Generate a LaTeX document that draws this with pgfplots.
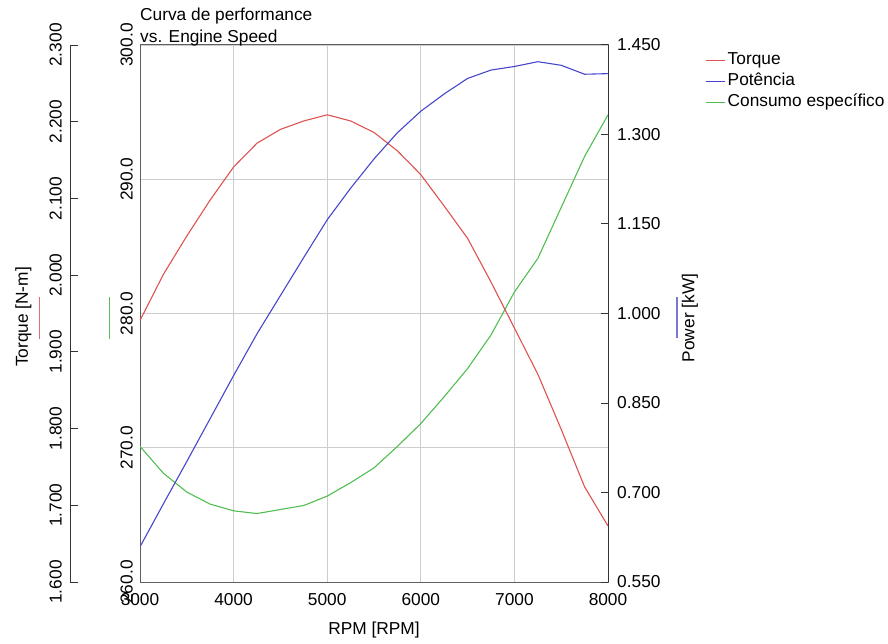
\documentclass[border=0pt]{standalone}
\usepackage{fontspec}
\setmainfont{Liberation Sans}
\usepackage{pgfplots}
\pgfplotsset{compat=1.18}
\usepackage{pgfplotstable}
\definecolor{torquec}{RGB}{222,82,82}
\definecolor{powc}{RGB}{70,70,205}
\definecolor{consc}{RGB}{80,190,80}
\definecolor{framec}{RGB}{95,95,95}
\definecolor{gridc}{RGB}{205,205,205}
\definecolor{lblred}{RGB}{220,110,110}
\definecolor{lblgreen}{RGB}{90,190,90}
\definecolor{lblblue}{RGB}{120,120,210}

\pgfplotstableread{
rpm torque power cons
3000 1.941 0.609 270.1
3250 2.001 0.681 268.1
3500 2.051 0.752 266.7
3750 2.098 0.824 265.8
4000 2.141 0.896 265.3
4250 2.172 0.966 265.1
4500 2.190 1.030 265.4
4750 2.201 1.094 265.7
5000 2.209 1.157 266.4
5250 2.201 1.210 267.4
5500 2.186 1.259 268.5
5750 2.162 1.303 270.1
6000 2.131 1.339 271.8
6250 2.090 1.368 273.8
6500 2.048 1.394 275.9
6750 1.991 1.408 278.4
7000 1.931 1.414 281.6
7250 1.871 1.422 284.1
7500 1.799 1.416 287.9
7750 1.724 1.401 291.7
8000 1.673 1.402 294.8
}\engdata

\begin{document}
\fontsize{17.3}{20.8}\selectfont
\begin{tikzpicture}[x=1pt,y=1pt]
\useasboundingbox (0,0) rectangle (888,643);

% main axis: consumo especifico
\begin{axis}[
  scale only axis, width=468pt, height=537pt,
  at={(140pt,61pt)}, anchor=south west,
  /pgf/number format/assume math mode=true, scaled ticks=false,
  xmin=3000, xmax=8000, ymin=260, ymax=300,
  xtick={3000,4000,5000,6000,7000,8000},
  ytick={260,270,280,290,300},
  grid=major, major grid style={gridc, line width=0.9pt},
  axis line style={framec, line width=1pt},
  major tick length=0pt,
  xticklabel style={yshift=-5.5pt, /pgf/number format/set thousands separator={}},
  yticklabel style={rotate=90, anchor=south, inner sep=0pt, inner ysep=7pt,
    /pgf/number format/.cd, fixed, fixed zerofill, precision=1},
  xlabel={RPM [RPM]},
  xlabel style={at={(axis description cs:0.5,0)}, anchor=north, inner sep=0pt, yshift=-40pt},
  legend cell align=left,
  legend image code/.code={\draw[#1, line width=1.2pt] (0pt,0pt) -- (19pt,0pt);},
  legend style={at={(rel axis cs:1.2073,0.9916)}, anchor=north west, draw=none, fill=none,
    inner sep=0pt, row sep=0pt, column sep=0pt,
    nodes={inner sep=2.3pt, text height=12.5pt, text depth=4pt}},
]
\addlegendimage{torquec}
\addlegendentry{Torque}
\addlegendimage{powc}
\addlegendentry{Potência}
\addplot[consc, line width=1.1pt] table[x=rpm, y=cons] {\engdata};
\addlegendentry{Consumo específico}
\end{axis}

% torque axis (offset left)
\begin{axis}[
  scale only axis, width=538pt, height=537pt,
  at={(70pt,61pt)}, anchor=south west,
  /pgf/number format/assume math mode=true, scaled ticks=false,
  xmin=2252.137, xmax=8000, ymin=1.6, ymax=2.3,
  axis y line*=left, axis x line=none,
  ytick={1.6,1.7,1.8,1.9,2.0,2.1,2.2,2.3},
  tick align=inside, major tick length=8pt,
  axis line style={black!80, line width=1pt},
  every tick/.style={black!80, line width=1pt},
  yticklabel style={rotate=90, anchor=south, inner sep=0pt, inner ysep=8pt,
    /pgf/number format/.cd, fixed, fixed zerofill, precision=3},
]
\addplot[torquec, line width=1.1pt] table[x=rpm, y=torque] {\engdata};
\end{axis}

% power axis (right)
\begin{axis}[
  scale only axis, width=468pt, height=537pt,
  at={(140pt,61pt)}, anchor=south west,
  /pgf/number format/assume math mode=true, scaled ticks=false,
  xmin=3000, xmax=8000, ymin=0.55, ymax=1.45,
  axis y line*=right, axis x line=none,
  ytick={0.55,0.7,0.85,1.0,1.15,1.3,1.45},
  tick align=inside, major tick length=7pt,
  axis line style={black!80, line width=1pt},
  every tick/.style={black!80, line width=1pt},
  yticklabel style={anchor=west, inner sep=0pt, inner xsep=9pt,
    /pgf/number format/.cd, fixed, fixed zerofill, precision=3},
]
\addplot[powc, line width=1.1pt] table[x=rpm, y=power] {\engdata};
\end{axis}

% titles and axis labels
\node[anchor=base west, inner sep=0pt] at (140,622.3) {Curva de performance};
\node[anchor=base west, inner sep=0pt] at (140,600.7) {vs. Engine Speed};
\node[rotate=90, inner sep=0pt] at (23.5,326) {Torque [N-m]};
\node[rotate=90, inner sep=0pt] at (690,325) {Power [kW]};
\draw[lblred, line width=1.5pt] (39.5,304) -- (39.5,346);
\draw[lblgreen, line width=1.5pt] (109.5,304) -- (109.5,346);
\draw[lblblue, line width=1.5pt] (677,305) -- (677,346);
\end{tikzpicture}
\end{document}
